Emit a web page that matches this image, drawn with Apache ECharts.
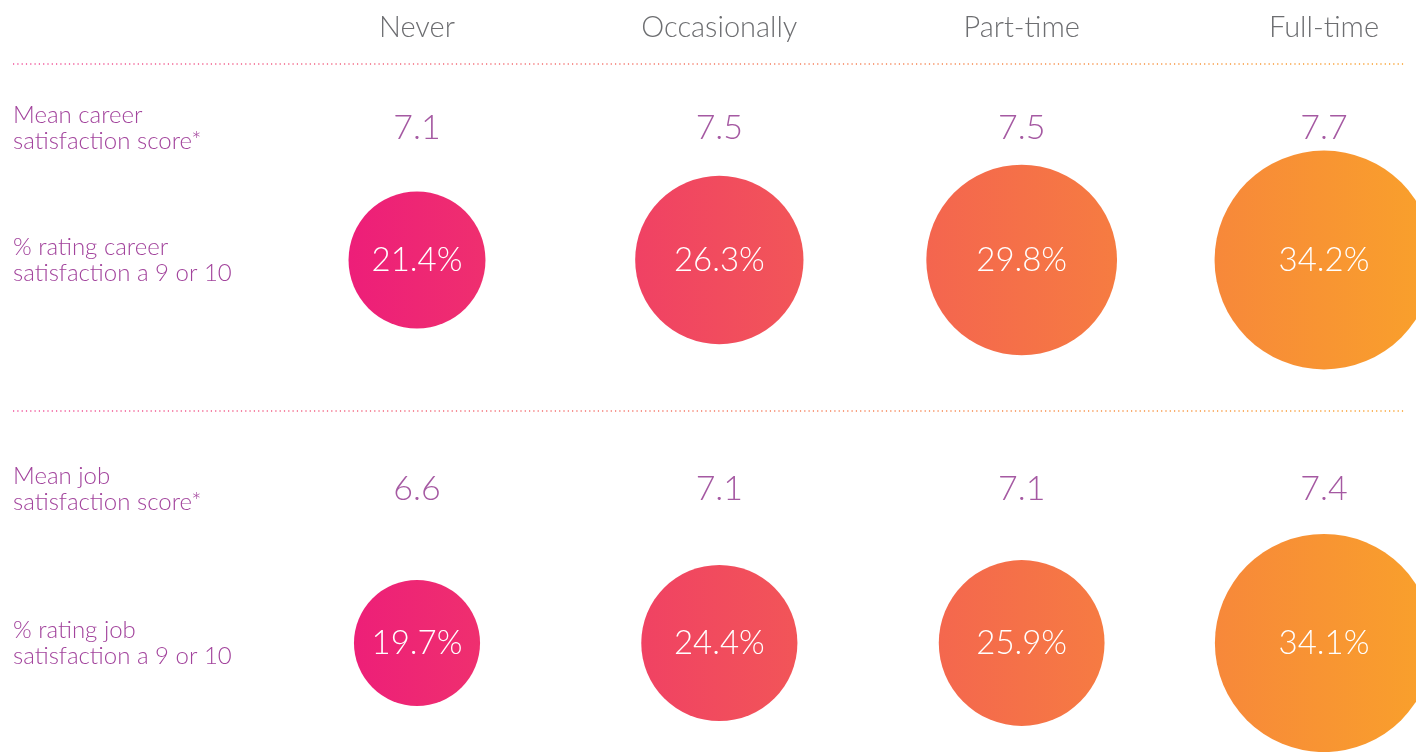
<!DOCTYPE html>
<html>
<head>
<meta charset="utf-8">
<script src="https://cdn.jsdelivr.net/npm/echarts@6/dist/echarts.min.js"></script>
<style>
html,body{margin:0;padding:0;background:#fff;}
#chart{width:1416px;height:752px;}
</style>
</head>
<body>
<div id="chart"></div>
<script>
// ---- data ----
const columns = ['Never', 'Occasionally', 'Part-time', 'Full-time'];
const rowLabels = [
  'Mean career\nsatisfaction score*',
  '% rating career\nsatisfaction a 9 or 10',
  'Mean job\nsatisfaction score*',
  '% rating job\nsatisfaction a 9 or 10'
];
const careerMean = [7.1, 7.5, 7.5, 7.7];
const careerTop = [21.4, 26.3, 29.8, 34.2];
const jobMean = [6.6, 7.1, 7.1, 7.4];
const jobTop = [19.7, 24.4, 25.9, 34.1];

// ---- style ----
const FONT = 'Lato';
const labelColor = '#A2439C';
const valueColor = '#8E2F8B';
const headColor = '#6D6E71';
const gradFrom = [237, 30, 121], gradTo = [249, 161, 43];
const gradX0 = 345, gradX1 = 1416;
const lineGrad = {
  type: 'linear', x: 13, y: 0, x2: 1406, y2: 0, global: true,
  colorStops: [{offset: 0, color: '#F0509A'}, {offset: 1, color: '#F9A12B'}]
};
const diamPerPct = 6.4;

function colorAt(px) {
  let t = (px - gradX0) / (gradX1 - gradX0);
  t = Math.max(0, Math.min(1, t));
  const c = gradFrom.map((a, k) => Math.round(a + (gradTo[k] - a) * t));
  return 'rgb(' + c.join(',') + ')';
}

const rowCenters = [128, 260, 489, 643];
const rowH = 40;
const grids = rowCenters.map(c => ({left: 417, right: 92, top: c - rowH / 2, height: rowH}));

const xAxes = grids.map((g, i) => ({
  type: 'category', gridIndex: i, data: columns, boundaryGap: false,
  position: 'top',
  axisLine: {show: false}, axisTick: {show: false}, splitLine: {show: false},
  axisLabel: i === 0 ? {
    show: true, color: headColor, fontFamily: FONT, fontWeight: 300, fontSize: 29,
    verticalAlign: 'middle', margin: grids[0].top - 28, interval: 0
  } : {show: false}
}));
const yAxes = grids.map((g, i) => ({
  type: 'category', gridIndex: i, data: [rowLabels[i]],
  axisLine: {show: false}, axisTick: {show: false}, splitLine: {show: false},
  axisLabel: {
    show: true, align: 'left', margin: 417 - 13, color: labelColor,
    fontFamily: FONT, fontWeight: 300, fontSize: 24, lineHeight: 26
  }
}));

function meanSeries(idx, vals) {
  return {
    type: 'scatter', xAxisIndex: idx, yAxisIndex: idx, clip: false,
    symbolSize: 1, itemStyle: {color: 'transparent'},
    data: vals.map((v, i) => [columns[i], rowLabels[idx], v]),
    label: {
      show: true, position: 'inside', formatter: p => p.value[2].toFixed(1),
      color: valueColor, fontFamily: FONT, fontWeight: 300, fontSize: 34
    },
    silent: true
  };
}
function circleData(idx, vals, withColor) {
  return vals.map((v, i) => {
    const item = {value: [columns[i], rowLabels[idx], v]};
    if (withColor) {
      const p = chart.convertToPixel({xAxisIndex: idx, yAxisIndex: idx}, [columns[i], rowLabels[idx]]);
      const r = v * diamPerPct / 2;
      item.itemStyle = {
        opacity: 1,
        color: {
          type: 'linear', x: 0, y: 0, x2: 1, y2: 0,
          colorStops: [{offset: 0, color: colorAt(p[0] - r)}, {offset: 1, color: colorAt(p[0] + r)}]
        }
      };
    }
    return item;
  });
}
function circleSeries(idx, vals, withColor) {
  return {
    type: 'scatter', xAxisIndex: idx, yAxisIndex: idx, clip: false,
    symbol: 'circle',
    symbolSize: v => v[2] * diamPerPct,
    itemStyle: {color: colorAt(700), opacity: 1},
    data: circleData(idx, vals, withColor),
    label: {
      show: true, position: 'inside', formatter: p => p.value[2].toFixed(1) + '%',
      color: '#FFFFFF', fontFamily: FONT, fontWeight: 300, fontSize: 33
    },
    silent: true
  };
}

const chart = echarts.init(document.getElementById('chart'), null, {renderer: 'canvas'});
function build(withColor) {
  return {
    backgroundColor: '#FFFFFF',
    animation: false,
    grid: grids,
    xAxis: xAxes,
    yAxis: yAxes,
    series: [
      meanSeries(0, careerMean),
      circleSeries(1, careerTop, withColor),
      meanSeries(2, jobMean),
      circleSeries(3, jobTop, withColor)
    ],
    graphic: [64, 411].map(y => ({
      type: 'line', silent: true,
      shape: {x1: 13, y1: y, x2: 1406, y2: y},
      style: {stroke: lineGrad, lineWidth: 1.5, lineDash: [1.2, 3.1]}
    }))
  };
}
chart.setOption(build(false));
chart.setOption(build(true));
</script>
</body>
</html>
